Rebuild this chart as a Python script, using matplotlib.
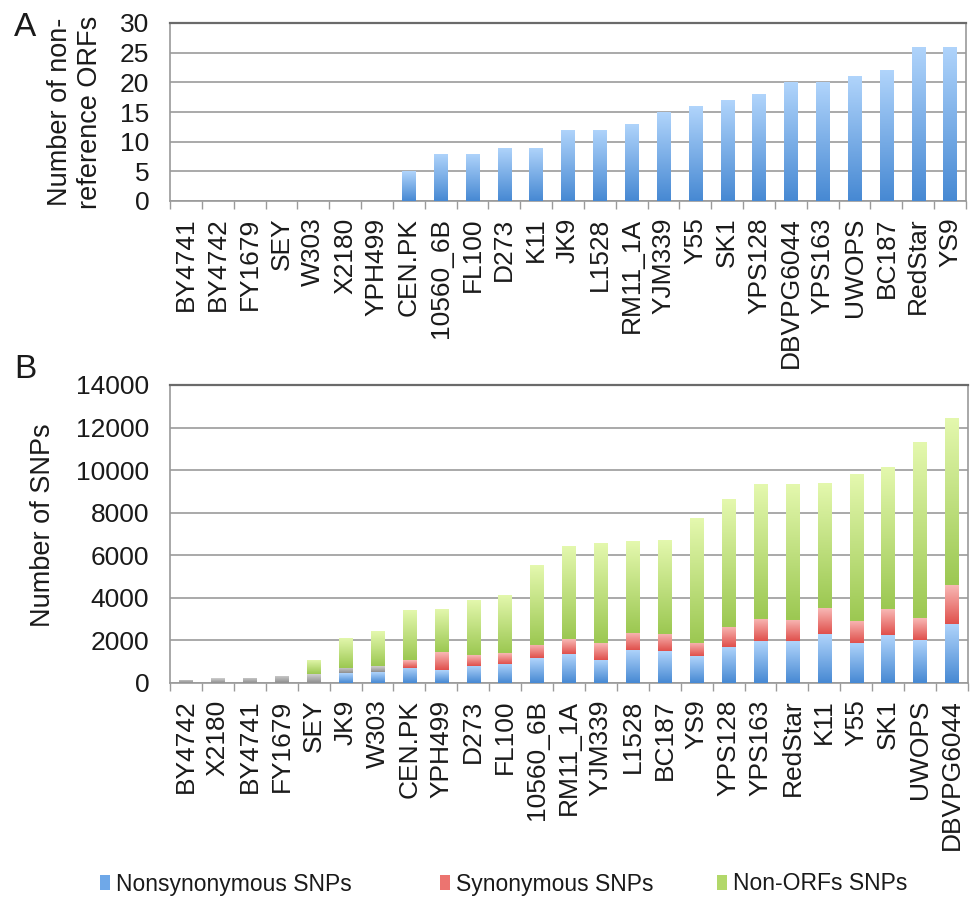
import numpy as np
import matplotlib
matplotlib.use("Agg")
import matplotlib.pyplot as plt
from matplotlib.patches import Patch
from matplotlib.ticker import FixedLocator, NullFormatter

plt.rcParams['font.family'] = ['Liberation Sans', 'DejaVu Sans']

# ---------------- data ----------------
strains_a = ["BY4741", "BY4742", "FY1679", "SEY", "W303", "X2180", "YPH499",
             "CEN.PK", "10560_6B", "FL100", "D273", "K11", "JK9", "L1528",
             "RM11_1A", "YJM339", "Y55", "SK1", "YPS128", "DBVPG6044",
             "YPS163", "UWOPS", "BC187", "RedStar", "YS9"]
nonref_orfs = [0, 0, 0, 0, 0, 0, 0, 5, 8, 8, 9, 9, 12, 12, 13, 15, 16, 17,
               18, 20, 20, 21, 22, 26, 26]

strains_b = ["BY4742", "X2180", "BY4741", "FY1679", "SEY", "JK9", "W303",
             "CEN.PK", "YPH499", "D273", "FL100", "10560_6B", "RM11_1A",
             "YJM339", "L1528", "BC187", "YS9", "YPS128", "YPS163", "RedStar",
             "K11", "Y55", "SK1", "UWOPS", "DBVPG6044"]
nonsyn_snps = [0, 0, 0, 0, 0, 450, 500, 720, 610, 800, 910, 1170, 1360,
               1090, 1560, 1480, 1260, 1700, 1950, 1950, 2290, 1890, 2250,
               2030, 2790]
other_snps = [160, 220, 250, 340, 420, 250, 280, 0, 0, 0, 0, 0, 0,
              0, 0, 0, 0, 0, 0, 0, 0, 0, 0, 0, 0]
syn_snps = [0, 0, 0, 0, 0, 0, 0, 370, 840, 500, 500, 630, 700,
            780, 810, 800, 640, 950, 1080, 1010, 1220, 1040, 1210, 1010, 1830]
nonorf_snps = [0, 0, 0, 0, 660, 1410, 1640, 2350, 2050, 2600, 2740, 3750,
               4390, 4720, 4290, 4440, 5870, 5990, 6330, 6400, 5900, 6880,
               6700, 8270, 7850]
legend_labels = ["Nonsynonymous SNPs", "Synonymous SNPs", "Non-ORFs SNPs"]

yticks_a = [0, 5, 10, 15, 20, 25, 30]
yticks_b = [0, 2000, 4000, 6000, 8000, 10000, 12000, 14000]

# ---------------- styling ----------------
BLUE = ("#b0d4fb", "#4789d3")
RED = ("#f8b8b5", "#e0504c")
GREEN = ("#e4f8ae", "#9cc852")
GREY = ("#cfcfcf", "#8e8e8e")
GRID = "#a9a9a9"
TXT = "#1a1a1a"


def gradient_fill(ax, patches, ctop, cbot):
    from matplotlib.colors import to_rgb
    t = np.array(to_rgb(ctop))
    b = np.array(to_rgb(cbot))
    n = 64
    f = np.linspace(0, 1, n)[:, None]
    arr = (b * (1 - f) + t * f)[:, None, :]
    for p in patches:
        h = p.get_height()
        if h <= 0:
            continue
        x0 = p.get_x()
        w = p.get_width()
        y0 = p.get_y()
        im = ax.imshow(arr, extent=[x0, x0 + w, y0, y0 + h], origin='lower',
                       aspect='auto', zorder=3, interpolation='bilinear')
        im.set_clip_path(p)


def style_axes(ax, n, yticks):
    ax.set_xlim(-0.5, n - 0.5)
    ax.set_ylim(yticks[0], yticks[-1])
    ax.set_yticks(yticks)
    ax.yaxis.grid(True, color=GRID, linewidth=1.4, zorder=0)
    ax.set_axisbelow(True)
    for s in ['left', 'bottom', 'right']:
        ax.spines[s].set_color("#9a9a9a")
        ax.spines[s].set_linewidth(1.2)
    ax.spines['top'].set_color("#6a6a6a")
    ax.spines['top'].set_linewidth(1.6)
    ax.tick_params(axis='y', length=0, pad=15, labelsize=19, labelcolor=TXT)
    ax.tick_params(axis='x', which='major', length=0, pad=12, labelsize=19,
                   labelcolor=TXT, labelrotation=90)
    ax.xaxis.set_minor_locator(FixedLocator(np.arange(-0.5, n, 1.0)))
    ax.xaxis.set_minor_formatter(NullFormatter())
    ax.tick_params(axis='x', which='minor', length=6, width=1.0,
                   color="#9a9a9a", direction='out')


fig = plt.figure(figsize=(9.74, 9.0), dpi=100)
W, H = 974.0, 900.0

# ---------------- panel A ----------------
wA = 966 - 170
axA = fig.add_axes([170 / W, 1 - 201 / H, wA / W, (201 - 23) / H])
xa = np.arange(len(strains_a))
barsA = axA.bar(xa, nonref_orfs, width=0.42, color="#7fb3ea", zorder=2)
gradient_fill(axA, barsA, *BLUE)
style_axes(axA, len(strains_a), yticks_a)
axA.set_xticks(xa)
axA.set_xticklabels(strains_a)
axA.set_ylabel("Number of non-\nreference ORFs", fontsize=19.5, color=TXT,
               linespacing=1.2)
axA.yaxis.set_label_coords(-(170 - 103) / wA, 0.5)
fig.text(25 / W, 1 - 27 / H, "A", fontsize=24, ha='center', va='center',
         color=TXT)

# ---------------- panel B ----------------
wB = 968 - 170
axB = fig.add_axes([170 / W, 1 - 683 / H, wB / W, (683 - 385) / H])
xb = np.arange(len(strains_b))
nonsyn = np.array(nonsyn_snps, float)
other = np.array(other_snps, float)
syn = np.array(syn_snps, float)
nonorf = np.array(nonorf_snps, float)

b1 = axB.bar(xb, nonsyn, width=0.42, color="#7fb3ea", zorder=2)
b2 = axB.bar(xb, other, width=0.42, bottom=nonsyn, color="#aaaaaa", zorder=2)
b3 = axB.bar(xb, syn, width=0.42, bottom=nonsyn + other, color="#ec8884",
             zorder=2)
b4 = axB.bar(xb, nonorf, width=0.42, bottom=nonsyn + other + syn,
             color="#c4e285", zorder=2)
gradient_fill(axB, b1, *BLUE)
gradient_fill(axB, b2, *GREY)
gradient_fill(axB, b3, *RED)
gradient_fill(axB, b4, *GREEN)
style_axes(axB, len(strains_b), yticks_b)
axB.set_xticks(xb)
axB.set_xticklabels(strains_b)
axB.set_ylabel("Number of SNPs", fontsize=19.5, color=TXT)
axB.yaxis.set_label_coords(-(170 - 56) / wB, 0.53)
fig.text(25 / W, 1 - 370 / H, "B", fontsize=24, ha='center', va='center',
         color=TXT)

# ---------------- legend ----------------
leg_colors = ["#6fa8e8", "#ec7470", "#b2d86a"]
leg_x = [100, 440, 717]
for lab, col, lx in zip(legend_labels, leg_colors, leg_x):
    lg = fig.legend(handles=[Patch(facecolor=col, edgecolor='none', label=lab)],
                    loc='center left', bbox_to_anchor=(lx / W, 1 - 884 / H),
                    frameon=False, fontsize=16.5, handlelength=0.45,
                    handleheight=0.6, handletextpad=0.25, borderaxespad=0,
                    borderpad=0)
    for t in lg.get_texts():
        t.set_color(TXT)

fig.savefig("out.png", dpi=100)
